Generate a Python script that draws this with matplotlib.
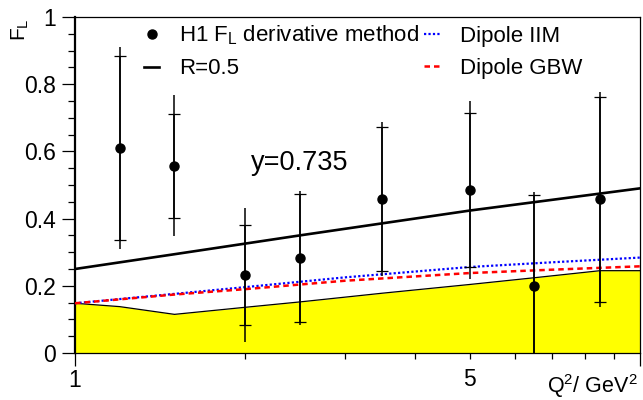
import numpy as np
import matplotlib
matplotlib.use("Agg")
import matplotlib.pyplot as plt
from matplotlib.ticker import FixedLocator, FixedFormatter

plt.rcParams['font.family'] = ['Liberation Sans', 'DejaVu Sans']
plt.rcParams['mathtext.fontset'] = 'custom'
plt.rcParams['mathtext.rm'] = 'Liberation Sans'
plt.rcParams['mathtext.it'] = 'Liberation Sans:italic'

# ─── data ─────────────────────────────────────────────────────
q2      = [1.20, 1.50, 2.00, 2.50, 3.50, 5.00, 6.50, 8.50]
fl      = [0.610, 0.557, 0.232, 0.283, 0.458, 0.485, 0.199, 0.458]
fl_stat = [0.275, 0.155, 0.150, 0.190, 0.215, 0.230, 0.270, 0.305]
fl_tot  = [0.300, 0.210, 0.200, 0.200, 0.230, 0.265, 0.280, 0.320]

# R=0.5 curve
r_q2 = [1.0, 1.5, 2.5, 5.0, 10.0]
r_fl = [0.250, 0.294, 0.350, 0.424, 0.490]

# dipole models
iim_q2 = [1.0, 1.5, 2.0, 3.0, 5.0, 7.0, 10.0]
iim_fl = [0.148, 0.176, 0.196, 0.225, 0.256, 0.270, 0.284]
gbw_q2 = [1.0, 1.5, 2.0, 3.0, 5.0, 7.0, 10.0]
gbw_fl = [0.148, 0.174, 0.190, 0.215, 0.238, 0.248, 0.258]

# yellow band upper edge
band_q2 = [1.0, 1.2, 1.5, 2.0, 2.5, 3.5, 5.0, 6.5, 8.5, 10.0]
band_fl = [0.148, 0.138, 0.115, 0.136, 0.152, 0.178, 0.204, 0.224, 0.245, 0.245]

# ─── figure ───────────────────────────────────────────────────
fig = plt.figure(figsize=(6.43, 4.0), dpi=100)
ax = fig.add_axes([75/643, 1-353/400, 565/643, 336/400])

ax.fill_between(band_q2, 0, band_fl, color='#ffff00', lw=0, zorder=1)
ax.plot(band_q2, band_fl, color='black', lw=0.9, zorder=2)

h_r, = ax.plot(r_q2, r_fl, color='black', lw=1.9, zorder=3, label='R=0.5')
h_iim, = ax.plot(iim_q2, iim_fl, color='blue', lw=1.6, ls=(0, (1, 1)),
                 zorder=3, label='Dipole IIM')
h_gbw, = ax.plot(gbw_q2, gbw_fl, color='red', lw=1.8, ls=(0, (2.2, 1.6)),
                 zorder=3, label='Dipole GBW')

# total errors (no caps) + stat error ticks
ax.errorbar(q2, fl, yerr=fl_tot, fmt='none', ecolor='black', elinewidth=1.1,
            capsize=0, zorder=4)
ax.errorbar(q2, fl, yerr=fl_stat, fmt='none', ecolor='black', elinewidth=1.1,
            capsize=4, capthick=0.9, zorder=4)
h_dat, = ax.plot(q2, fl, 'o', color='black', ms=6.5, zorder=5,
                 label=r'H1 F$_{\rm L}$ derivative method')

ax.set_xscale('log')
ax.set_xlim(1, 10)
ax.set_ylim(0, 1)

ax.xaxis.set_major_locator(FixedLocator([1, 10]))
ax.xaxis.set_major_formatter(FixedFormatter(['1', '']))
ax.xaxis.set_minor_locator(FixedLocator([2, 3, 4, 5, 6, 7, 8, 9]))
ax.xaxis.set_minor_formatter(FixedFormatter(['', '', '', '5', '', '', '', '']))

ax.yaxis.set_major_locator(FixedLocator([0, 0.2, 0.4, 0.6, 0.8, 1.0]))
ax.yaxis.set_major_formatter(FixedFormatter(['0', '0.2', '0.4', '0.6', '0.8', '1']))
ax.yaxis.set_minor_locator(FixedLocator(np.arange(0.05, 1.0, 0.05)))

ax.tick_params(axis='both', which='both', direction='out', labelsize=16.5,
               top=False, right=False, width=0.9)
ax.tick_params(axis='y', which='major', length=9.5, pad=4)
ax.tick_params(axis='y', which='minor', length=5)
ax.tick_params(axis='x', which='major', length=9.5, pad=2)
ax.tick_params(axis='x', which='minor', length=4.5, pad=6.5)

ax.spines['left'].set_linewidth(1.6)
for s in ['top', 'right', 'bottom']:
    ax.spines[s].set_linewidth(0.9)

ax.text(0.996, -0.118, r'Q$^{2}$/ GeV$^{2}$', transform=ax.transAxes,
        ha='right', va='baseline', fontsize=15.5)
ax.text(-0.097, 0.997, r'F$_{\rm L}$', transform=ax.transAxes, rotation=90,
        ha='center', va='top', fontsize=15)

ax.text(2.5, 0.565, 'y=0.735', ha='center', va='center', fontsize=19.5)

ax.legend(handles=[h_dat, h_r, h_iim, h_gbw], ncol=2, frameon=False,
          loc='upper left', bbox_to_anchor=(0.122, 0.98), fontsize=16,
          handlelength=0.7, handletextpad=0.9, columnspacing=0.2,
          labelspacing=0.5, borderaxespad=0.0, borderpad=0.0)

fig.savefig('out.png', dpi=100)
